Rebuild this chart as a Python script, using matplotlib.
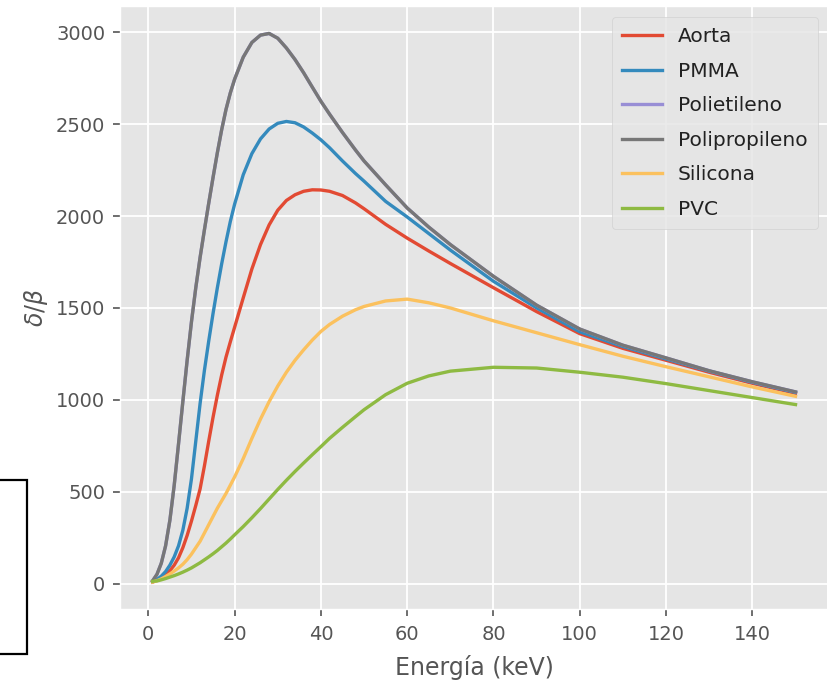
import matplotlib
matplotlib.use("Agg")
import matplotlib.pyplot as plt
from matplotlib.patches import Rectangle

plt.style.use("ggplot")

energia = [1, 2, 3, 4, 5, 6, 7, 8, 9, 10, 11, 12, 13, 14, 15, 16, 17, 18, 19, 20,
           22, 24, 26, 28, 30, 32, 34, 36, 38, 40, 42, 45, 48, 50, 55, 60, 65, 70,
           80, 90, 100, 110, 120, 130, 140, 150]

aorta = [8, 18, 30, 48, 70, 100, 140, 195, 262, 340, 425, 515, 640, 775, 905, 1025,
         1135, 1232, 1315, 1395, 1555, 1712, 1845, 1952, 2032, 2085, 2116, 2135, 2143,
         2142, 2135, 2112, 2072, 2040, 1955, 1880, 1810, 1742, 1610, 1480, 1360, 1280,
         1215, 1150, 1090, 1035]

pmma = [10, 22, 40, 65, 100, 145, 205, 290, 410, 570, 775, 980, 1160, 1320, 1470,
        1610, 1740, 1860, 1970, 2065, 2225, 2340, 2420, 2474, 2505, 2515, 2508, 2485,
        2452, 2415, 2372, 2300, 2232, 2190, 2080, 1995, 1905, 1815, 1645, 1500, 1370,
        1290, 1222, 1156, 1095, 1040]

polietileno = [15, 50, 110, 205, 345, 535, 760, 990, 1215, 1425, 1610, 1775, 1925,
               2070, 2210, 2345, 2470, 2580, 2670, 2745, 2865, 2945, 2985, 2994, 2968,
               2915, 2852, 2780, 2702, 2625, 2555, 2455, 2360, 2300, 2170, 2044, 1940,
               1845, 1672, 1515, 1385, 1297, 1228, 1158, 1098, 1043]

polipropileno = [15, 50, 110, 205, 345, 535, 760, 990, 1215, 1425, 1610, 1775, 1925,
                 2070, 2210, 2345, 2470, 2580, 2670, 2745, 2865, 2945, 2985, 2994, 2968,
                 2915, 2852, 2780, 2702, 2625, 2555, 2455, 2360, 2300, 2170, 2044, 1940,
                 1845, 1672, 1515, 1385, 1297, 1228, 1158, 1098, 1043]

silicona = [8, 15, 25, 38, 52, 68, 85, 105, 130, 160, 195, 230, 275, 320, 365, 410,
            450, 490, 535, 580, 680, 790, 895, 990, 1075, 1150, 1215, 1272, 1325, 1372,
            1410, 1455, 1490, 1508, 1538, 1548, 1528, 1500, 1430, 1365, 1300, 1237, 1180,
            1125, 1070, 1019]

pvc = [12, 14, 20, 27, 35, 43, 52, 62, 73, 85, 99, 113, 129, 145, 162, 180, 200, 220,
       242, 265, 310, 358, 408, 460, 512, 562, 610, 656, 701, 745, 790, 850, 908, 946,
       1028, 1090, 1130, 1156, 1177, 1173, 1150, 1123, 1088, 1050, 1012, 974]

series = [("Aorta", aorta), ("PMMA", pmma), ("Polietileno", polietileno),
          ("Polipropileno", polipropileno), ("Silicona", silicona), ("PVC", pvc)]

fig = plt.figure(figsize=(8.27, 6.81), dpi=100)
ax = fig.add_axes([0.1457, 0.1051, 0.8551, 0.8865])

for name, vals in series:
    ax.plot(energia, vals, label=name, linewidth=2.4)

ax.set_xlim(-6.45, 157.45)
ax.set_ylim(-141, 3145)
ax.set_xticks([0, 20, 40, 60, 80, 100, 120, 140])
ax.set_yticks([0, 500, 1000, 1500, 2000, 2500, 3000])
ax.tick_params(axis="both", labelsize=14, colors="#555555", length=5, width=1.2, pad=6)
ax.set_xlabel("Energía (keV)", fontsize=17, color="#555555", labelpad=8)
ax.set_ylabel(r"$\delta/\beta$", fontsize=17, color="#555555", labelpad=4)
ax.grid(True, color="white", linewidth=1.3)

leg = ax.legend(loc="upper right", fontsize=14.5, handlelength=2.0,
                borderpad=0.5, labelspacing=0.77, handletextpad=0.8,
                borderaxespad=0, bbox_to_anchor=(0.986, 0.981))
for t in leg.get_texts():
    t.set_color("#222222")

fig.patches.append(Rectangle((-10 / 827, (681 - 654) / 681), 37 / 827, 174 / 681,
                             transform=fig.transFigure, fill=False,
                             edgecolor="black", linewidth=1.6))

fig.savefig("out.png", dpi=100)
